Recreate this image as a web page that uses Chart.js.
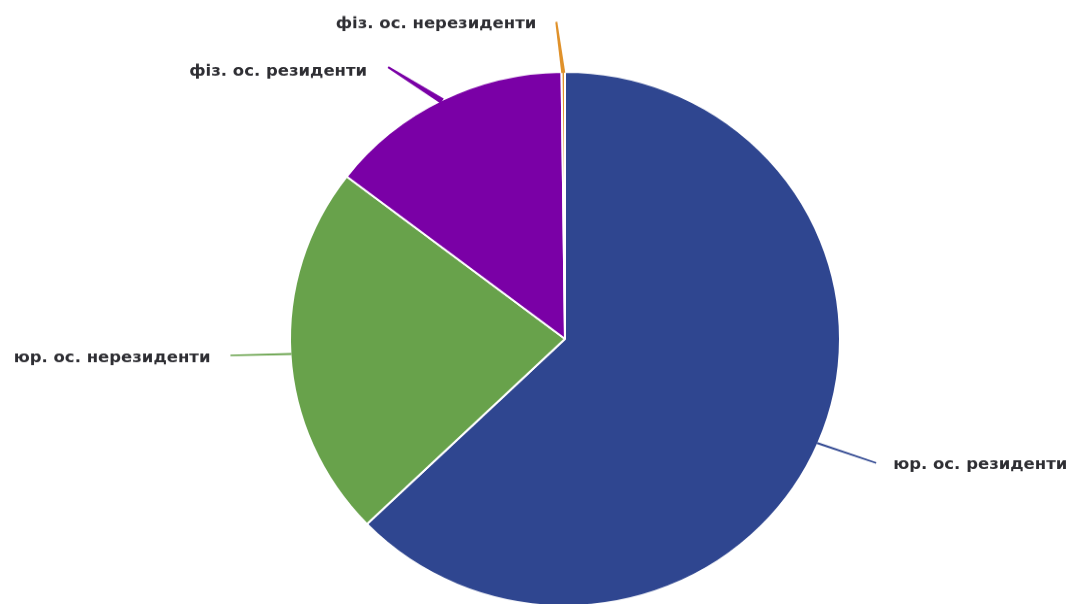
<!DOCTYPE html>
<html><head><meta charset="utf-8">
<script src="https://cdn.jsdelivr.net/npm/chart.js@4"></script>
<style>
html,body{margin:0;padding:0;overflow:hidden;background:#fff}
#wrap{width:1072px;height:604px;overflow:hidden}
#c{transform:scaleY(0.971);transform-origin:0 0;display:block}
</style>
</head><body><div id="wrap"><canvas id="c" width="1072" height="700"></canvas></div>
<script>
const categories = ['юр. ос. резиденти', 'юр. ос. нерезиденти', 'фіз. ос. резиденти', 'фіз. ос. нерезиденти'];
const shares = [62.8, 22.6, 14.4, 0.2];
const colors = ['#2f4690', '#68a24b', '#7a00a6', '#e0912a'];

// leader line layout (offset of label anchor from slice edge, taper widths)
const leaderStyle = [
  {dx: 59, dy: 20.6, base: 2, tip: 1.6, gap: 17, ty: 2},
  {dx: -61, dy: 1.5, base: 2, tip: 1.6, gap: 20, ty: 3},
  {dx: -54, dy: -35, base: 6, tip: 2, gap: 21, ty: 5},
  {dx: -7, dy: -52.5, base: 4, tip: 2, gap: 20, ty: 2}
];

const labelPlugin = {
  id: 'outerLabels',
  afterDatasetsDraw(chart) {
    const ctx = chart.ctx;
    const meta = chart.getDatasetMeta(0);
    ctx.save();
    meta.data.forEach((arc, i) => {
      const p = arc.getProps(['x', 'y', 'startAngle', 'endAngle', 'outerRadius'], true);
      const mid = (p.startAngle + p.endAngle) / 2;
      const sx = p.x + Math.cos(mid) * (p.outerRadius - 1);
      const sy = p.y + Math.sin(mid) * (p.outerRadius - 1);
      const st = leaderStyle[i];
      const ex = sx + st.dx, ey = sy + st.dy;
      const len = Math.hypot(st.dx, st.dy);
      const nx = -st.dy / len, ny = st.dx / len;
      ctx.fillStyle = colors[i];
      ctx.beginPath();
      ctx.moveTo(sx + nx * st.base / 2, sy + ny * st.base / 2);
      ctx.lineTo(ex + nx * st.tip / 2, ey + ny * st.tip / 2);
      ctx.lineTo(ex - nx * st.tip / 2, ey - ny * st.tip / 2);
      ctx.lineTo(sx - nx * st.base / 2, sy - ny * st.base / 2);
      ctx.closePath();
      ctx.fill();
      ctx.font = 'bold 16.5px "DejaVu Sans"';
      ctx.fillStyle = '#2e2e33';
      ctx.textBaseline = 'middle';
      if (st.dx >= 0 && Math.abs(st.dx) > 20) {
        ctx.textAlign = 'left';
        ctx.fillText(categories[i], ex + st.gap, ey + st.ty);
      } else {
        ctx.textAlign = 'right';
        ctx.fillText(categories[i], ex - st.gap, ey + st.ty);
      }
    });
    ctx.restore();
  }
};

new Chart(document.getElementById('c'), {
  type: 'pie',
  data: {
    labels: categories,
    datasets: [{
      data: shares,
      backgroundColor: colors,
      borderColor: '#ffffff',
      borderWidth: 2,
      hoverOffset: 0,
      offset: 0
    }]
  },
  options: {
    responsive: false,
    animation: false,
    devicePixelRatio: 1,
    layout: {padding: {left: 289, right: 231, top: 73, bottom: 75}},
    plugins: {legend: {display: false}, tooltip: {enabled: false}}
  },
  plugins: [labelPlugin]
});
</script>
</body></html>
